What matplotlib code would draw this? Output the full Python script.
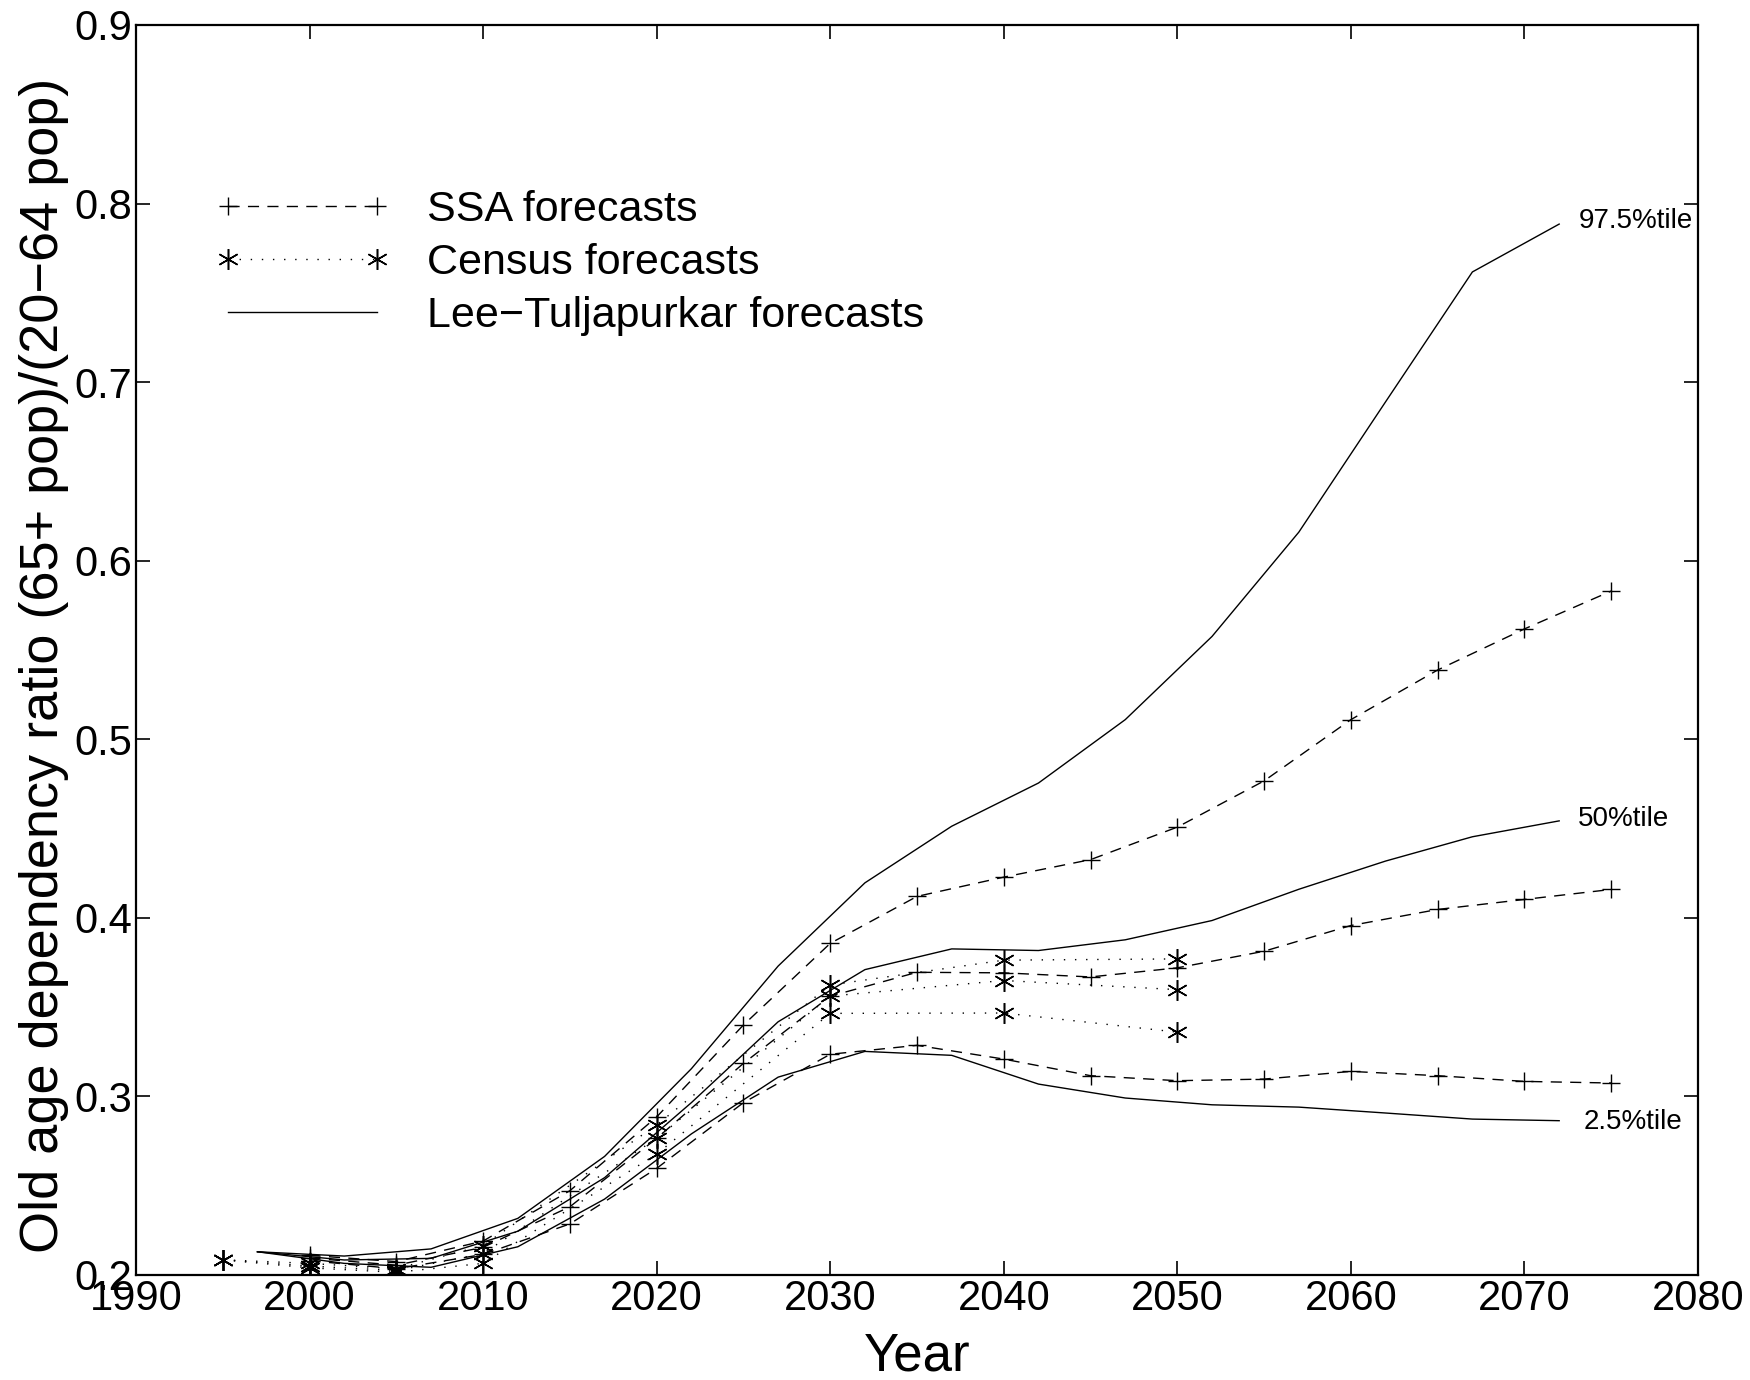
import numpy as np
import matplotlib
matplotlib.use("Agg")
import matplotlib.pyplot as plt

plt.rcParams['font.family'] = ['Liberation Sans', 'DejaVu Sans']

# Lee-Tuljapurkar stochastic forecast percentiles
lt_years = [1997, 2002, 2007, 2012, 2017, 2022, 2027, 2032, 2037, 2042,
            2047, 2052, 2057, 2062, 2067, 2072]
lt_hi = [0.213, 0.2106, 0.2146, 0.2317, 0.2664, 0.3155, 0.3730, 0.4196,
         0.4513, 0.4755, 0.5110, 0.5576, 0.6160, 0.6890, 0.7617, 0.7885]
lt_mid = [0.213, 0.2084, 0.2093, 0.2245, 0.2545, 0.2965, 0.3418, 0.3710,
          0.3826, 0.3817, 0.3877, 0.3985, 0.4160, 0.4318, 0.4454, 0.4543]
lt_lo = [0.213, 0.2065, 0.2043, 0.2158, 0.2425, 0.2790, 0.3108, 0.3252,
         0.3230, 0.3069, 0.2991, 0.2953, 0.2940, 0.2907, 0.2873, 0.2864]

# SSA high / intermediate / low cost
ssa_years = [2000, 2005, 2010, 2015, 2020, 2025, 2030, 2035, 2040, 2045,
             2050, 2055, 2060, 2065, 2070, 2075]
ssa_hi = [0.2110, 0.2075, 0.2190, 0.2472, 0.2885, 0.3400, 0.3857, 0.4120,
          0.4228, 0.4326, 0.4508, 0.4767, 0.5110, 0.5388, 0.5618, 0.5830]
ssa_mid = [0.2095, 0.2055, 0.2155, 0.2382, 0.2765, 0.3185, 0.3561, 0.3695,
           0.3692, 0.3669, 0.3720, 0.3813, 0.3957, 0.4047, 0.4103, 0.4159]
ssa_lo = [0.2080, 0.2035, 0.2115, 0.2286, 0.2597, 0.2965, 0.3236, 0.3286,
          0.3209, 0.3116, 0.3088, 0.3097, 0.3140, 0.3116, 0.3084, 0.3075]

# Census high / middle / low series
census_years = [1995, 2000, 2005, 2010, 2020, 2030, 2040, 2050]
census_hi = [0.2085, 0.2065, 0.2035, 0.2165, 0.2840, 0.3624, 0.3763, 0.3770]
census_mid = [0.2085, 0.2050, 0.2025, 0.2120, 0.2765, 0.3562, 0.3649, 0.3598]
census_lo = [0.2085, 0.2040, 0.2015, 0.2065, 0.2677, 0.3465, 0.3467, 0.3360]

fig = plt.figure(figsize=(17.5, 13.8), dpi=100)
ax = fig.add_axes([0.0777, 0.0761, 0.8926, 0.9058])

ssa_style = dict(color='black', lw=1.0, dashes=(8, 6), marker='+',
                 markersize=13, markeredgewidth=1.0)
census_style = dict(color='black', lw=1.0, linestyle=(0, (1, 7)),
                    marker=(6, 2, 0), markersize=15, markeredgewidth=1.1)
lt_style = dict(color='black', lw=1.0, linestyle='-')

ax.plot(ssa_years, ssa_hi, label='SSA forecasts', **ssa_style)
ax.plot(ssa_years, ssa_mid, **ssa_style)
ax.plot(ssa_years, ssa_lo, **ssa_style)

ax.plot(census_years, census_hi, label='Census forecasts', **census_style)
ax.plot(census_years, census_mid, **census_style)
ax.plot(census_years, census_lo, **census_style)

ax.plot(lt_years, lt_hi, label='Lee\u2212Tuljapurkar forecasts', **lt_style)
ax.plot(lt_years, lt_mid, **lt_style)
ax.plot(lt_years, lt_lo, **lt_style)

# percentile labels at the end of the LT curves
ax.text(2073.1, lt_hi[-1] + 0.002, '97.5%tile', fontsize=20, va='center', ha='left')
ax.text(2073.1, lt_mid[-1] + 0.001, '50%tile', fontsize=20, va='center', ha='left')
ax.text(2073.4, lt_lo[-1] - 0.001, '2.5%tile', fontsize=20, va='center', ha='left')

ax.set_xlim(1990, 2080)
ax.set_ylim(0.2, 0.9)
ax.set_xticks(np.arange(1990, 2081, 10))
ax.set_yticks(np.arange(0.2, 0.91, 0.1))
ax.set_yticklabels([f'{v:.1f}' for v in np.arange(0.2, 0.91, 0.1)])
ax.tick_params(direction='in', length=10, width=1.2, labelsize=30,
               top=True, right=True, pad=3)
for sp in ax.spines.values():
    sp.set_linewidth(1.6)

ax.set_xlabel('Year', fontsize=38)
ax.xaxis.set_label_coords(0.5, -0.045)
ax.set_ylabel('Old age dependency ratio (65+ pop)/(20\u221264 pop)', fontsize=39)
ax.yaxis.set_label_coords(-0.043, 0.488)

leg = ax.legend(loc='upper left', bbox_to_anchor=(0.0505, 0.868),
                frameon=False, fontsize=31, numpoints=2, handlelength=4.07,
                handletextpad=0.86, labelspacing=0.3, borderpad=0,
                borderaxespad=0)

fig.savefig('out.png', dpi=100, facecolor='white')
